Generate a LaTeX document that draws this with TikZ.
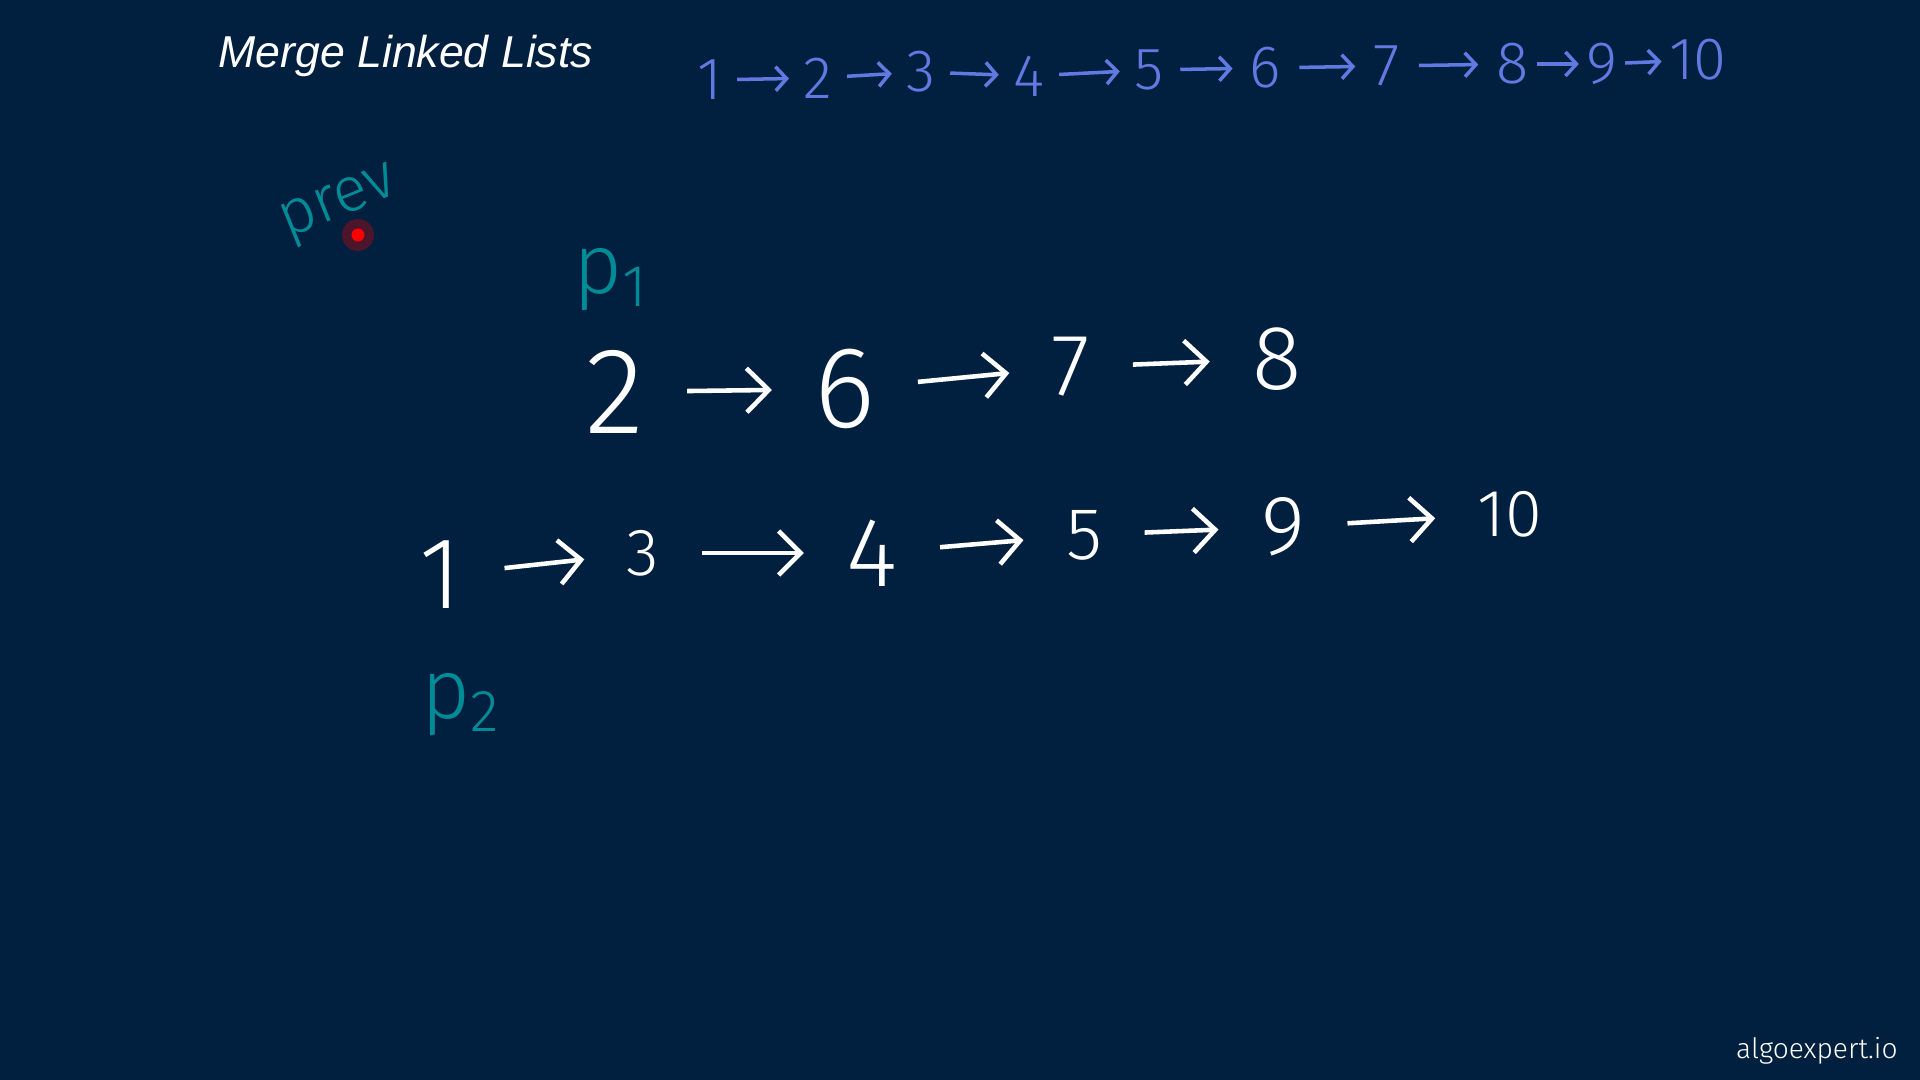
\documentclass[tikz,border=0pt]{standalone}
\usepackage{fontspec}
\usetikzlibrary{arrows.meta}
\newfontfamily\titlefont{Liberation Sans}
\newfontfamily\handfont{Fira Sans Light}
\definecolor{bgnavy}{RGB}{1,31,62}
\definecolor{listblue}{RGB}{97,122,226}
\definecolor{ptrteal}{RGB}{0,140,150}

\begin{document}
\begin{tikzpicture}[
  num/.style={text=white, inner sep=0pt, font=\handfont\fontsize{#1}{#1}\selectfont},
  top/.style={text=listblue, inner sep=0pt, font=\handfont\fontsize{17}{17}\selectfont},
  ptr/.style={text=ptrteal, inner sep=0pt, font=\handfont\fontsize{#1}{#1}\selectfont},
  warr/.style={-{Straight Barb[length=2.2mm, width=4.4mm]}, white, line width=1.3pt,
               shorten <=4.2mm, shorten >=4.2mm},
  barr/.style={-{Straight Barb[length=1.1mm, width=2.4mm]}, listblue, line width=1pt,
               shorten <=#1, shorten >=#1}
]
  \useasboundingbox (0,0) rectangle (19.2,10.8);
  \fill[bgnavy] (0,0) rectangle (19.2,10.8);

  % Title
  \node[anchor=base west, text=white, font=\titlefont\itshape\fontsize{12.7}{12.7}\selectfont]
    (title) at (2.06,10.12) {Merge Linked Lists};

  % Merged list
  \foreach \i/\x/\y in {1/7.10/10.00, 2/8.18/10.02, 3/9.21/10.08, 4/10.29/10.04, 5/11.49/10.10,
                        6/12.65/10.12, 7/13.87/10.14, 8/15.13/10.16, 9/16.02/10.16, 10/16.98/10.20} {
    \node[top] (t\i) at (\x,\y) {\i};
  }
  \foreach \i/\g [evaluate=\i as \j using int(\i+1)] in {1/1.4, 2/1.4, 3/1.4, 4/1.4, 5/1.6,
                                                        6/1.8, 7/1.8, 8/0.7, 9/0.7} {
    \draw[barr=\g mm] (t\i) -- (t\j);
  }

  % First list
  \foreach \i/\v/\x/\y/\s in {1/2/6.15/6.88/35, 2/6/8.45/6.91/33, 3/7/10.71/7.13/25, 4/8/12.77/7.21/26} {
    \node[num=\s] (a\i) at (\x,\y) {\v};
  }
  \foreach \i [evaluate=\i as \j using int(\i+1)] in {1,2,3} {
    \draw[warr] (a\i) -- (a\j);
  }

  % Second list
  \foreach \i/\v/\x/\y/\s in {1/1/4.41/5.05/29, 2/3/6.43/5.27/19, 3/4/8.72/5.27/28,
                              4/5/10.84/5.45/21, 5/9/12.83/5.53/24, 6/10/15.10/5.66/19} {
    \node[num=\s] (b\i) at (\x,\y) {\v};
  }
  \foreach \i [evaluate=\i as \j using int(\i+1)] in {1,...,5} {
    \draw[warr] (b\i) -- (b\j);
  }

  % Pointers
  \node[ptr=18, rotate=22] (prev) at (3.40,8.74) {prev};
  \node[ptr=24] (p1) at (6.11,8.00) {p\textsubscript{1}};
  \node[ptr=24] (p2) at (4.61,3.75) {p\textsubscript{2}};

  % Laser dot
  \node[circle, fill=red, inner sep=0pt, minimum size=1.3mm] (dot) at (3.58,8.45) {};
  \fill[red, opacity=0.3] (dot) circle (1.6mm);

  \node[anchor=east, text=white, font=\handfont\fontsize{8}{8}\selectfont]
    (brand) at (19.10,0.29) {algoexpert.io};
\end{tikzpicture}
\end{document}
